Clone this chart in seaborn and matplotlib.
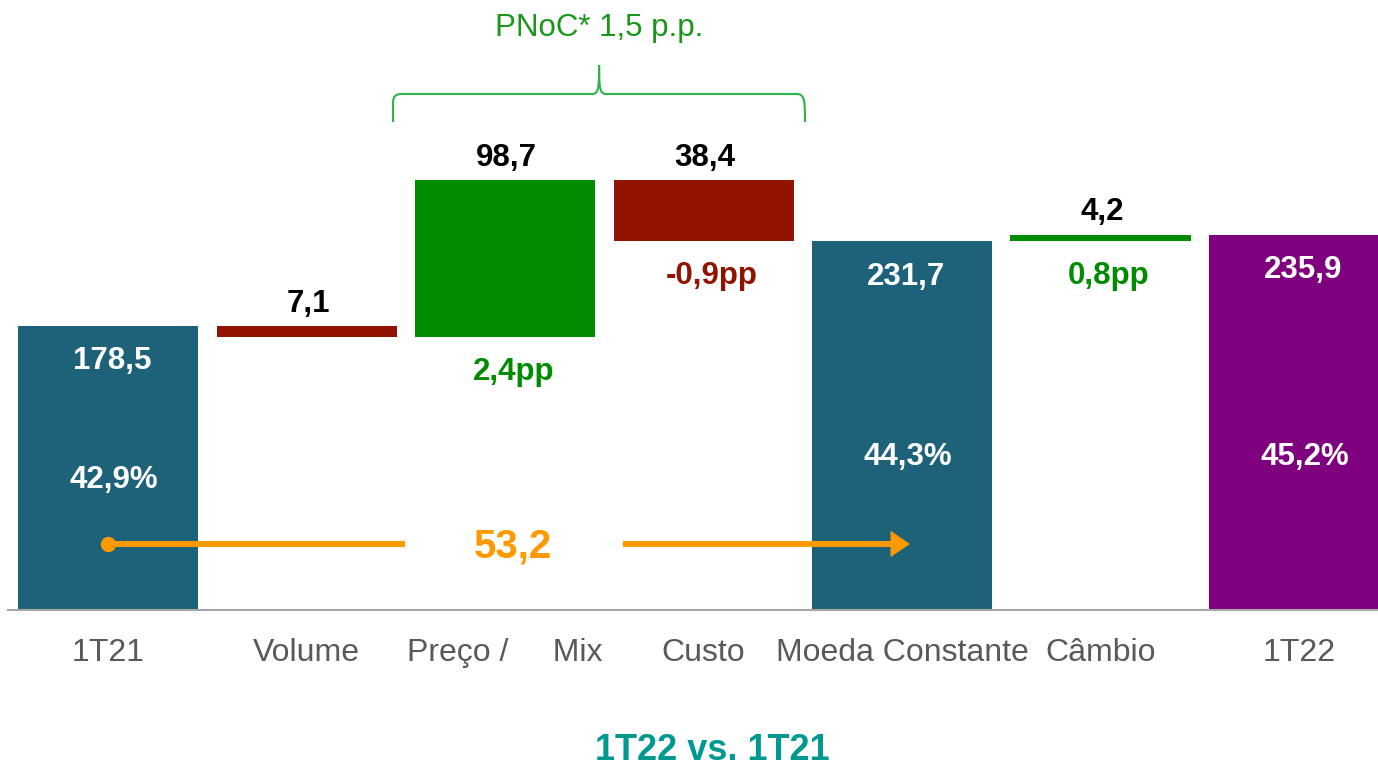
import numpy as np
import pandas as pd
import matplotlib
matplotlib.use("Agg")
import matplotlib.pyplot as plt
from matplotlib.path import Path
from matplotlib.patches import PathPatch
import seaborn as sns

# ---------------- data ----------------
categories = ["1T21", "Volume", "Preço /     Mix", "Custo", "Moeda Constante", "Câmbio", "1T22"]
kinds = ["total", "delta", "delta", "delta", "total", "delta", "total"]
values = [178.5, -7.1, 98.7, -38.4, 231.7, 4.2, 235.9]
value_labels = ["178,5", "7,1", "98,7", "38,4", "231,7", "4,2", "235,9"]
margin_labels = ["42,9%", "", "2,4pp", "-0,9pp", "44,3%", "0,8pp", "45,2%"]
bracket_text = "PNoC* 1,5 p.p."
growth_text = "53,2"
title_text = "1T22 vs. 1T21"

# ---------------- colours ----------------
C_TEAL = "#1E627A"
C_RED = "#921400"
C_GREEN = "#008C00"
C_PURPLE = "#7F007F"
C_ORANGE = "#FF9900"
C_BRACE = "#2DB34A"
C_TITLE = "#009990"
C_TICK = "#595959"

# waterfall geometry from the data
bottoms, tops = [], []
running = 0.0
for k, v in zip(kinds, values):
    if k == "total":
        bottoms.append(0.0); tops.append(v); running = v
    else:
        new = running + v
        bottoms.append(min(running, new)); tops.append(max(running, new)); running = new
heights = [t - b for t, b in zip(tops, bottoms)]
colors = []
for i, (k, v) in enumerate(zip(kinds, values)):
    if k == "total":
        colors.append(C_PURPLE if i == len(values) - 1 else C_TEAL)
    else:
        colors.append(C_GREEN if v > 0 else C_RED)

df = pd.DataFrame({"cat": categories, "h": heights})

sns.set_theme(style="white")
plt.rcParams["font.family"] = ["Liberation Sans", "DejaVu Sans"]

W, H = 1378, 769
fig = plt.figure(figsize=(W / 100, H / 100), dpi=100)
ax = fig.add_axes([8 / W, 159 / H, 1370 / W, 610 / H])

sns.barplot(data=df, x="cat", y="h", order=categories, width=0.907,
            color=C_TEAL, ax=ax, zorder=2)
for i, p in enumerate(ax.patches):
    p.set_y(bottoms[i])
    p.set_facecolor(colors[i])
    p.set_edgecolor("none")

ax.set_xlim(-0.504, 6.398)
ax.set_ylim(0, 383.4)
ax.set_xlabel(""); ax.set_ylabel("")
ax.set_yticks([])
for s in ["left", "right", "top"]:
    ax.spines[s].set_visible(False)
ax.spines["bottom"].set_color("#A6A6A6")
ax.spines["bottom"].set_linewidth(1.5)
ax.tick_params(axis="x", length=0, pad=20.5, labelsize=23, labelcolor=C_TICK)

FS = 22.5
# value labels
for i, k in enumerate(kinds):
    x = i
    if k == "total":
        ax.annotate(value_labels[i], (x, tops[i]), xytext=(3, -25.5), textcoords="offset points",
                    ha="center", va="center", color="white", fontsize=FS, fontweight="bold")
    else:
        ax.annotate(value_labels[i], (x, tops[i]), xytext=(1, 16), textcoords="offset points",
                    ha="center", va="center", color="black", fontsize=FS, fontweight="bold")
        if margin_labels[i]:
            ax.annotate(margin_labels[i], (x, bottoms[i]), xytext=(6, -25), textcoords="offset points",
                        ha="center", va="center", color=colors[i], fontsize=FS, fontweight="bold")

# percentages inside totals
pct_y = {0: 81.5, 4: 96.0, 6: 96.0}
for i, y in pct_y.items():
    ax.text(i + 0.03, y, margin_labels[i], ha="center", va="center", color="white",
            fontsize=FS, fontweight="bold", zorder=4)

# orange growth arrow
ya = 41.5
ax.plot([0, 1.496], [ya, ya], color=C_ORANGE, lw=4.3, zorder=3, solid_capstyle="butt")
ax.plot([0], [ya], marker="o", ms=10, color=C_ORANGE, zorder=3)
ax.annotate("", xy=(4.04, ya), xytext=(2.594, ya),
            arrowprops=dict(width=4.3, headwidth=19, headlength=14, color=C_ORANGE,
                            shrink=0.0, linewidth=0), zorder=3)
ax.text(2.04, ya - 1.5, growth_text, ha="center", va="center", color=C_ORANGE,
        fontsize=29, fontweight="bold", zorder=4)

# curly bracket over Preço/Mix and Custo
xl, xr, xc = 1.436, 3.511, 2.474
yb, yh, yp = 306.7, 324.3, 342.5
dx = 0.04
dy = 5.0
verts = [
    (xl, yb), (xl, yh - dy), (xl, yh), (xl + dx, yh),
    (xc - dx, yh),
    (xc - 0.005, yh), (xc, yh + 2), (xc, yp),
    (xc, yh + 2), (xc + 0.005, yh), (xc + dx, yh),
    (xr - dx, yh),
    (xr, yh), (xr, yh - dy), (xr, yb),
]
codes = [Path.MOVETO, Path.LINETO, Path.CURVE3, Path.CURVE3,
         Path.LINETO,
         Path.CURVE4, Path.CURVE4, Path.CURVE4,
         Path.CURVE4, Path.CURVE4, Path.CURVE4,
         Path.LINETO,
         Path.CURVE4, Path.CURVE4, Path.CURVE4]
ax.add_patch(PathPatch(Path(verts, codes), fill=False, edgecolor=C_BRACE, lw=1.5, zorder=3))
ax.text(xc, 366.0, bracket_text, ha="center", va="center", color="#1A961A", fontsize=22.5)

fig.text(712 / W, 1 - 751 / H, title_text, ha="center", va="center", color=C_TITLE,
         fontsize=26, fontweight="bold")

fig.savefig("out.png", dpi=100)
